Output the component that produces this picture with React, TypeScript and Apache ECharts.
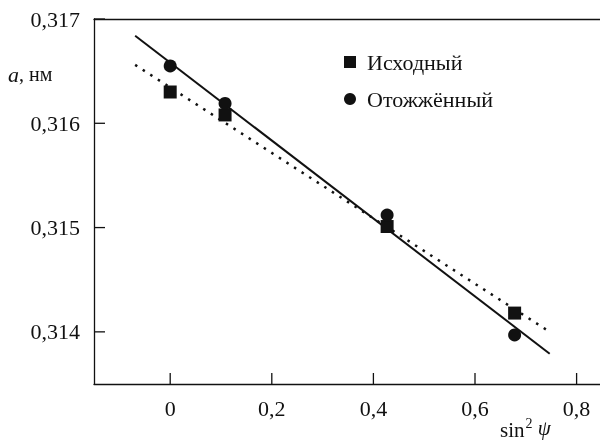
import React, { useEffect, useRef } from "react";
import * as echarts from "echarts";

const xTicks = [0, 0.2, 0.4, 0.6, 0.8];
const yTicks = [0.314, 0.315, 0.316, 0.317];
const X_MIN = -0.15;
const X_MAX = 0.85;
const Y_MIN = 0.3135;
const Y_MAX = 0.317;

const seriesNames = ["Исходный", "Отожжённый"];
const xInitial = [0, 0.108, 0.427, 0.678];
const yInitial = [0.3163, 0.31608, 0.31501, 0.31418];
const xAnnealed = [0, 0.108, 0.427, 0.678];
const yAnnealed = [0.31655, 0.31619, 0.31512, 0.31397];

const fitAnnealedX = [-0.069, 0.747];
const fitAnnealedY = [0.31684, 0.31379];
const fitInitialX = [-0.069, 0.747];
const fitInitialY = [0.31656, 0.314];

const FONT = "Liberation Serif";
const INK = "#111111";

export default function App() {
  const ref = useRef<HTMLDivElement>(null);
  useEffect(() => {
    if (!ref.current) return;
    const chart = echarts.init(ref.current, null, { renderer: "svg" });
    const pts = (xs: number[], ys: number[]) => xs.map((x, i) => [x, ys[i]]);
    const axisLineStyle = { color: INK, width: 1.3 };
    const TICK = 11;
    chart.setOption({
      animation: false,
      grid: { left: 94, top: 19, right: 8, bottom: 57 },
      legend: {
        left: 339,
        top: 46,
        orient: "vertical",
        itemWidth: 12,
        itemHeight: 12,
        itemGap: 15,
        data: [
          { name: seriesNames[0], icon: "rect" },
          { name: seriesNames[1], icon: "circle" },
        ],
        textStyle: { fontFamily: FONT, fontSize: 22, color: INK, padding: [0, 0, 0, 6] },
      },
      xAxis: [
        {
          type: "value",
          min: X_MIN,
          max: X_MAX,
          splitLine: { show: false },
          axisLine: { show: true, onZero: false, lineStyle: axisLineStyle },
          axisTick: { show: false },
          axisLabel: {
            customValues: xTicks,
            margin: 13,
            fontSize: 22,
            fontFamily: FONT,
            color: INK,
            formatter: (v: number) => (Math.abs(v) < 1e-9 ? "0" : v.toFixed(1).replace(".", ",")),
          },
        },
        {
          type: "value",
          position: "top",
          min: X_MIN,
          max: X_MAX,
          splitLine: { show: false },
          axisLine: { show: true, onZero: false, lineStyle: axisLineStyle },
          axisTick: { show: false },
          axisLabel: { show: false },
        },
      ],
      yAxis: {
        type: "value",
        min: Y_MIN,
        max: Y_MAX,
        splitLine: { show: false },
        axisLine: { show: true, onZero: false, lineStyle: axisLineStyle },
        axisTick: { show: false },
        axisLabel: {
          customValues: yTicks,
          margin: 14,
          fontSize: 22,
          fontFamily: FONT,
          color: INK,
          formatter: (v: number) => v.toFixed(3).replace(".", ","),
        },
      },
      graphic: [
        {
          type: "text",
          left: 8,
          top: 63,
          style: {
            text: "{i|a}{n|, нм}",
            rich: {
              i: { fontFamily: FONT, fontSize: 22, fontStyle: "italic", fill: INK },
              n: { fontFamily: FONT, fontSize: 20, fill: INK },
            },
          },
        },
        {
          type: "text",
          left: 500,
          top: 416,
          style: {
            text: "{n|sin}{s|2}{n| }{i|ψ}",
            rich: {
              n: { fontFamily: FONT, fontSize: 21, fill: INK, verticalAlign: "bottom" },
              s: { fontFamily: FONT, fontSize: 14, fill: INK, padding: [0, 0, 10, 1] },
              i: { fontFamily: FONT, fontSize: 21, fontStyle: "italic", fill: INK },
            },
          },
        },
      ],
      series: [
        {
          type: "scatter",
          name: "xTicks",
          data: xTicks.map((v) => [v, Y_MIN]),
          symbol: "rect",
          symbolSize: [1.3, TICK],
          symbolOffset: [0, -TICK / 2],
          itemStyle: { color: INK, opacity: 1 },
          silent: true,
          clip: false,
          z: 2,
        },
        {
          type: "scatter",
          name: "yTicks",
          data: yTicks.map((v) => [X_MIN, v]),
          symbol: "rect",
          symbolSize: [TICK, 1.3],
          symbolOffset: [TICK / 2, 0],
          itemStyle: { color: INK, opacity: 1 },
          silent: true,
          clip: false,
          z: 2,
        },
        {
          type: "line",
          name: "fitInitial",
          data: pts(fitInitialX, fitInitialY),
          symbol: "none",
          lineStyle: { color: INK, width: 2.5, type: [2.5, 6.5] },
          z: 1,
        },
        {
          type: "line",
          name: "fitAnnealed",
          data: pts(fitAnnealedX, fitAnnealedY),
          symbol: "none",
          lineStyle: { color: INK, width: 2 },
          z: 1,
        },
        {
          type: "scatter",
          name: seriesNames[0],
          data: pts(xInitial, yInitial),
          symbol: "rect",
          symbolSize: 13,
          itemStyle: { color: INK, opacity: 1 },
          z: 3,
        },
        {
          type: "scatter",
          name: seriesNames[1],
          data: pts(xAnnealed, yAnnealed),
          symbol: "circle",
          symbolSize: 13,
          itemStyle: { color: INK, opacity: 1 },
          z: 4,
        },
      ],
    });
    return () => chart.dispose();
  }, []);
  return (
    <div
      ref={ref}
      style={{ position: "fixed", left: 0, top: 0, width: 610, height: 441 }}
    />
  );
}
